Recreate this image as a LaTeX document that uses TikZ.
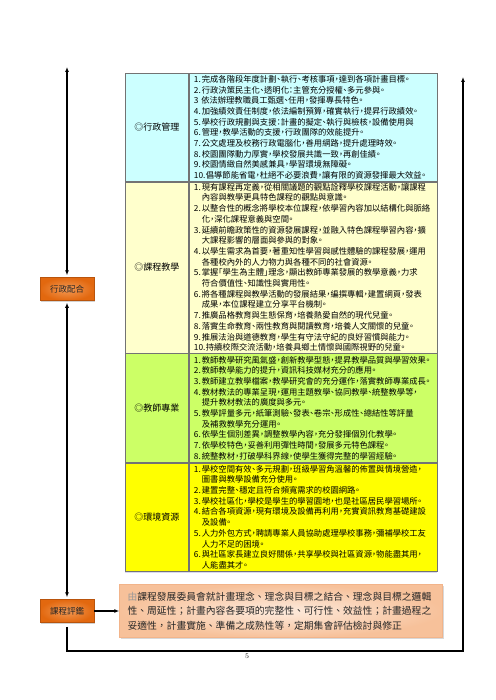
\documentclass[tikz,border=0pt]{standalone}
\usepackage{fontspec}
\usepackage{tikz}
\usetikzlibrary{positioning}
\usetikzlibrary{arrows.meta}
\usetikzlibrary{shadows}
\newfontfamily\cjk{Noto Sans CJK TC}
\newfontfamily\cjkhalf[RawFeature=+halt]{Noto Sans CJK TC}
\definecolor{rowadm}{HTML}{CCFFFF}
\definecolor{rowcur}{HTML}{FFFFCC}
\definecolor{rowtea}{HTML}{CCFF66}
\definecolor{rowenv}{HTML}{FFFF00}
\definecolor{boxin}{HTML}{F39A55}
\definecolor{boxout}{HTML}{E2680F}
\definecolor{boxedge}{HTML}{B9540C}
\definecolor{notein}{HTML}{FDEBDD}
\definecolor{noteout}{HTML}{F7C19A}
\definecolor{noteedge}{HTML}{F2B48A}
\definecolor{tblshade}{HTML}{D9D9EE}
\newcommand{\itemno}[1]{\makebox[8pt][l]{#1}}
\newcommand{\itemnow}[1]{\makebox[12pt][l]{#1}}
\newcommand{\hangin}{\hspace*{8pt}}

\begin{document}
\begin{tikzpicture}[x=1pt,y=-1pt,
                cell/.style={draw=black!55,line width=0.6pt,inner sep=0pt},
                headcell/.style={cell,minimum width=63pt,font=\cjk\fontsize{9}{11}\selectfont},
                bodycell/.style={cell,minimum width=248pt,text width=238pt,inner xsep=5pt,align=left,
                    font=\cjkhalf\fontsize{8.3}{10.7}\selectfont},
                orangebox/.style={draw=boxedge,line width=0.5pt,inner color=boxin,outer color=boxout,
                    minimum width=54pt,minimum height=23pt,inner sep=0pt,text=black!85,
                    font=\cjk\fontsize{8.5}{8.5}\selectfont,
                    drop shadow={opacity=0.35,shadow xshift=1.2pt,shadow yshift=-1.2pt}},
                notebox/.style={draw=noteedge,line width=0.5pt,inner color=notein,outer color=noteout,
                    minimum width=323pt,minimum height=53pt,text width=307pt,inner xsep=8pt,align=left,
                    text=black!85,font=\cjk\fontsize{9.8}{14.6}\selectfont,
                    drop shadow={opacity=0.3,shadow xshift=1.2pt,shadow yshift=-1.2pt}},
                link/.style={line width=1.1pt,black}]
                \fill[white] (0,0) rectangle (495,700);
                \useasboundingbox (0,0) rectangle (495,700);

                \node[headcell,fill=rowadm,minimum height=108pt,anchor=north west] (adm) at (125,73) {◎行政管理};
                \node[bodycell,fill=rowadm,minimum height=108pt,right=0pt of adm] (admtxt) {%
                    \itemno{1.}完成各階段年度計劃、執行、考核事項，達到各項計畫目標。\\
                    \itemno{2.}行政決策民主化、透明化：主管充分授權、多元參與。\\
                    3 依法辦理教職員工甄選、任用，發揮專長特色。\\
                    \itemno{4.}加強績效責任制度，依法編制預算，確實執行，提昇行政績效。\\
                    \itemno{5.}學校行政規劃與支援：計畫的擬定、執行與檢核，設備使用與\\
                    \itemno{6.}管理，教學活動的支援，行政團隊的效能提升。\\
                    \itemno{7.}公文處理及校務行政電腦化，善用網路，提升處理時效。\\
                    \itemno{8.}校園團隊動力厚實，學校發展共識一致，再創佳績。\\
                    \itemno{9.}校園情緻自然美感兼具，學習環境無障礙。\\
                    \itemnow{10.}倡導節能省電，杜絕不必要浪費，讓有限的資源發揮最大效益。};

                \node[headcell,fill=rowcur,minimum height=171pt,below=0pt of adm] (cur) {◎課程教學};
                \node[bodycell,fill=rowcur,minimum height=171pt,right=0pt of cur] (curtxt) {%
                    \itemno{1.}現有課程再定義，從相關議題的觀點詮釋學校課程活動，讓課程\\
                    \hangin 內容與教學更具特色課程的觀點與意識。\\
                    \itemno{2.}以整合性的概念將學校本位課程，依學習內容加以結構化與脈絡\\
                    \hangin 化，深化課程意義與空間。\\
                    \itemno{3.}延續前瞻政策性的資源發展課程，並融入特色課程學習內容，擴\\
                    \hangin 大課程影響的層面與參與的對象。\\
                    \itemno{4.}以學生需求為首要，著重知性學習與感性體驗的課程發展，運用\\
                    \hangin 各種校內外的人力物力與各種不同的社會資源。\\
                    \itemno{5.}掌握「學生為主體」理念，顯出教師專業發展的教學意義，力求\\
                    \hangin 符合價值性、知識性與實用性。\\
                    \itemno{6.}將各種課程與教學活動的發展結果，編撰專輯，建置網頁，發表\\
                    \hangin 成果，本位課程建立分享平台機制。\\
                    \itemno{7.}推廣品格教育與生態保育，培養熱愛自然的現代兒童。\\
                    \itemno{8.}落實生命教育、兩性教育與閱讀教育，培養人文關懷的兒童。\\
                    \itemno{9.}推展法治與道德教育，學生有守法守紀的良好習慣與能力。\\
                    \itemnow{10.}持續校際交流活動，培養具鄉土情懷與國際視野的兒童。};

                \node[headcell,fill=rowtea,minimum height=109pt,below=0pt of cur] (tea) {◎教師專業};
                \node[bodycell,fill=rowtea,minimum height=109pt,right=0pt of tea] (teatxt) {%
                    \itemno{1.}教師教學研究風氣盛，創新教學型態，提昇教學品質與學習效果。\\
                    \itemno{2.}教師教學能力的提升，資訊科技媒材充分的應用。\\
                    \itemno{3.}教師建立教學檔案，教學研究會的充分運作，落實教師專業成長。\\
                    \itemno{4.}教材教法的專業呈現，運用主題教學、協同教學、統整教學等，\\
                    \hangin 提升教材教法的廣度與多元。\\
                    \itemno{5.}教學評量多元，紙筆測驗、發表、卷宗、形成性、總結性等評量\\
                    \hangin 及補救教學充分運用。\\
                    \itemno{6.}依學生個別差異，調整教學內容，充分發揮個別化教學。\\
                    \itemno{7.}依學校特色，妥善利用彈性時間，發展多元特色課程。\\
                    \itemno{8.}統整教材，打破學科界線，使學生獲得完整的學習經驗。};

                \node[headcell,fill=rowenv,minimum height=108pt,below=0pt of tea] (env) {◎環境資源};
                \node[bodycell,fill=rowenv,minimum height=108pt,right=0pt of env] (envtxt) {%
                    \itemno{1.}學校空間有效、多元規劃，班級學習角溫馨的佈置與情境營造，\\
                    \hangin 圖書與教學設備充分使用。\\
                    \itemno{2.}建置完整、穩定且符合頻寬需求的校園網路。\\
                    \itemno{3.}學校社區化，學校是學生的學習園地，也是社區居民學習場所。\\
                    \itemno{4.}結合各項資源，現有環境及設備再利用，充實資訊教育基礎建設\\
                    \hangin 及設備。\\
                    \itemno{5.}人力外包方式，聘請專業人員協助處理學校事務，彌補學校工友\\
                    \hangin 人力不足的困境。\\
                    \itemno{6.}與社區家長建立良好關係，共享學校與社區資源，物能盡其用，\\
                    \hangin 人能盡其才。};
                \draw[tblshade,line width=1.4pt] ([yshift=-1.3pt]env.south west) -- ([yshift=-1.3pt]envtxt.south east);

                \node[orangebox] (coop) at (67,289) {行政配合};
                \node[orangebox] (eval) at (67,611) {課程評鑑};
                \node[notebox,right=25pt of eval] (plan) {%
                    {\color{black!40}由}課程發展委員會就計畫理念、理念與目標之結合、理念與目標之邏輯\\
                    性、周延性；計畫內容各要項的完整性、可行性、效益性；計畫過程之\\
                    妥適性，計畫實施、準備之成熟性等，定期集會評估檢討與修正};

                \coordinate (uptop) at (67,67);
                \coordinate (loopbase) at (463,651);
                \coordinate (looptop) at (463,77);
                \draw[link,{Latex[length=5pt,width=4pt]}-{Latex[length=5pt,width=4pt]},shorten >=2pt] (uptop) -- (coop.north);
                \draw[link,{Latex[length=5pt,width=4pt]}-{Latex[length=5pt,width=4pt]},shorten >=2pt,shorten <=2pt] (coop.south) -- (eval.north);
                \draw[link,-{Latex[length=5pt,width=4pt]}] (eval.east) -- (plan.west);
                \draw[link,-{Latex[length=5pt,width=4pt]},shorten <=4pt] (eval.south) |- (loopbase) -- (looptop);

                \node[font=\fontsize{7}{7}\selectfont] (pageno) at (247,656) {5};
            \end{tikzpicture}
\end{document}
